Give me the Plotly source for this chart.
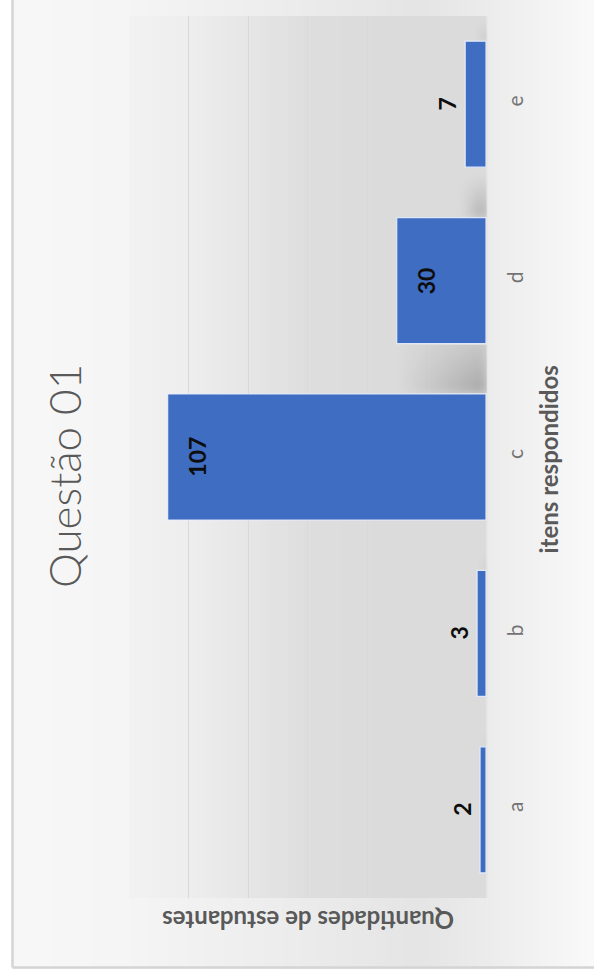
import base64
import struct
import zlib

import numpy as np
import plotly.graph_objects as go

# ---- data -------------------------------------------------------------
categories = ["a", "b", "c", "d", "e"]
counts = [2, 3, 107, 30, 7]
value_ticks = [0, 20, 40, 60, 80, 100, 120]

title_text = "Questão 01"
category_title = "itens respondidos"
value_title = "Quantidades de estudantes"

# ---- page geometry ----------------------------------------------------
W, H = 594, 977
M_L, M_R, M_T, M_B = 129, 108, 16, 79
PW, PH = W - M_L - M_R, H - M_T - M_B
VMAX = 120
BARGAP = 0.2857

FONT = "Lato"
GREY = "#595959"


def px_to_paper(px, py):
    return (px - M_L) / PW, (H - M_B - py) / PH


def png_encode(arr):
    """Encode a uint8 array (H x W gray, or H x W x 4 RGBA) as PNG."""
    if arr.ndim == 2:
        h, w = arr.shape
        ctype = 0
    else:
        h, w, _ = arr.shape
        ctype = 6
    raw = b"".join(b"\x00" + arr[i].tobytes() for i in range(h))

    def chunk(tag, data):
        return (struct.pack(">I", len(data)) + tag + data
                + struct.pack(">I", zlib.crc32(tag + data) & 0xFFFFFFFF))

    ihdr = struct.pack(">IIBBBBB", w, h, 8, ctype, 0, 0, 0)
    png = (b"\x89PNG\r\n\x1a\n" + chunk(b"IHDR", ihdr)
           + chunk(b"IDAT", zlib.compress(raw, 9)) + chunk(b"IEND", b""))
    return "data:image/png;base64," + base64.b64encode(png).decode()


def blur(a, sigma):
    r = int(3 * sigma)
    k = np.exp(-0.5 * (np.arange(-r, r + 1) / sigma) ** 2)
    k /= k.sum()
    a = np.apply_along_axis(lambda v: np.convolve(v, k, mode="same"), 0, a)
    return np.apply_along_axis(lambda v: np.convolve(v, k, mode="same"), 1, a)


def full_page_image(src, layer):
    return dict(
        source=src, xref="paper", yref="paper",
        x=-M_L / PW, y=1 + M_T / PH, sizex=W / PW, sizey=H / PH,
        xanchor="left", yanchor="top", sizing="stretch", layer=layer,
    )


# soft grey gradient fill of the chart area, darker inside the plot area
xs = np.arange(W)
outer = np.interp(xs, [13, 129, 300, 420, 486, 594], [248, 245, 236, 229, 236, 250])
inner = np.interp(xs, [129, 190, 250, 310, 400, 486], [242, 238, 230, 222, 219, 220])
bg = np.tile(outer, (H, 1)).astype(float)
bg[M_T:H - M_B, M_L:W - M_R] = inner[M_L:W - M_R]
bg[:, :12] = 255
bg[969:, :] = 255

# drop shadows cast by the bars toward the next category, near the base line
shade = np.zeros((H, W))
bars_mask = np.zeros((H, W), dtype=bool)
yy, xx = np.mgrid[0:H, 0:W]
band = PH / len(categories)
bar_h = band * (1 - BARGAP)
base_px = M_L + PW
for i, v in enumerate(counts):
    length = v / VMAX * PW
    top_px = M_T + PH - (i + 0.5) * band - bar_h / 2
    reach = min(band - bar_h - 2, 0.2 * length + 8)
    u = (base_px - xx) / max(length, 1)
    w = (top_px - yy) / reach
    inside = (u >= 0) & (w >= 0)
    shade += inside * np.clip(1 - u / 0.28, 0, 1) * np.clip(1 - 0.6 * w, 0, 1)
    bars_mask |= ((xx >= base_px - length - 1) & (xx <= base_px)
                  & (yy >= top_px - 1) & (yy <= top_px + bar_h + 1))
shade = np.clip(blur(shade, 5), 0, 1)
shade[:, base_px + 1:] = 0
shade[bars_mask] = 0
shadow_rgba = np.zeros((H, W, 4), dtype=np.uint8)
shadow_rgba[..., 3] = (255 * 0.26 * shade).astype(np.uint8)

fig = go.Figure()
fig.add_trace(go.Bar(
    y=categories,
    x=counts,
    orientation="h",
    marker=dict(color="#3f6dc1",
                line=dict(color="rgba(232,240,255,0.9)", width=1.2)),
    hoverinfo="x+y",
))

# value labels written on / beside each bar
annotations = []
for cat, v in zip(categories, counts):
    inside = v >= 20
    annotations.append(dict(
        x=v, y=cat, xref="x", yref="y", text=str(v), showarrow=False,
        textangle=-90, xshift=29 if inside else -18,
        font=dict(family=FONT, size=23, color="#0d0d0d", weight="bold"),
    ))

tx, ty = px_to_paper(36, 476)
annotations.append(dict(
    x=tx, y=ty, xref="paper", yref="paper", text=title_text, showarrow=False,
    textangle=-90, font=dict(family=FONT, size=44, color=GREY, weight=300),
))
cx, cy = px_to_paper(564, 460)
annotations.append(dict(
    x=cx, y=cy, xref="paper", yref="paper", text=category_title,
    showarrow=False, textangle=-90,
    font=dict(family=FONT, size=24, color=GREY, weight="bold"),
))
vx, vy = px_to_paper(308, 937)
annotations.append(dict(
    x=vx, y=vy, xref="paper", yref="paper", text=value_title,
    showarrow=False, textangle=180,
    font=dict(family=FONT, size=24, color=GREY, weight="bold"),
))

# frame of the chart area (left and bottom edges)
fx0, _ = px_to_paper(12.5, 0)
fx1, _ = px_to_paper(W + 5, 0)
_, fy0 = px_to_paper(0, 967.5)
_, fy1 = px_to_paper(0, -5)
shapes = [
    dict(type="line", xref="paper", yref="paper", x0=fx0, x1=fx0, y0=fy0, y1=fy1,
         line=dict(color="#d4d4d4", width=2.5)),
    dict(type="line", xref="paper", yref="paper", x0=fx0, x1=fx1, y0=fy0, y1=fy0,
         line=dict(color="#d4d4d4", width=2.5)),
]

fig.update_layout(
    width=W, height=H,
    margin=dict(l=M_L, r=M_R, t=M_T, b=M_B, pad=0),
    paper_bgcolor="white",
    plot_bgcolor="rgba(0,0,0,0)",
    bargap=BARGAP,
    showlegend=False,
    annotations=annotations,
    shapes=shapes,
    images=[
        full_page_image(png_encode(np.clip(bg, 0, 255).astype(np.uint8)), "below"),
        full_page_image(png_encode(shadow_rgba), "above"),
    ],
    xaxis=dict(
        range=[VMAX, 0], tickvals=value_ticks, showticklabels=False,
        showgrid=True, gridcolor="#d9d9d9", gridwidth=1.3,
        zeroline=False, showline=False, ticks="", automargin=False,
        fixedrange=True,
    ),
    yaxis=dict(
        type="category", categoryorder="array", categoryarray=categories,
        side="right", tickangle=-90, ticks="", ticklabelstandoff=10,
        tickfont=dict(family=FONT, size=21, color="#737373"),
        showgrid=False, zeroline=False,
        showline=True, linecolor="#e6e6e6", linewidth=1.5,
        automargin=False, fixedrange=True,
    ),
)

fig.write_html("out.html")
